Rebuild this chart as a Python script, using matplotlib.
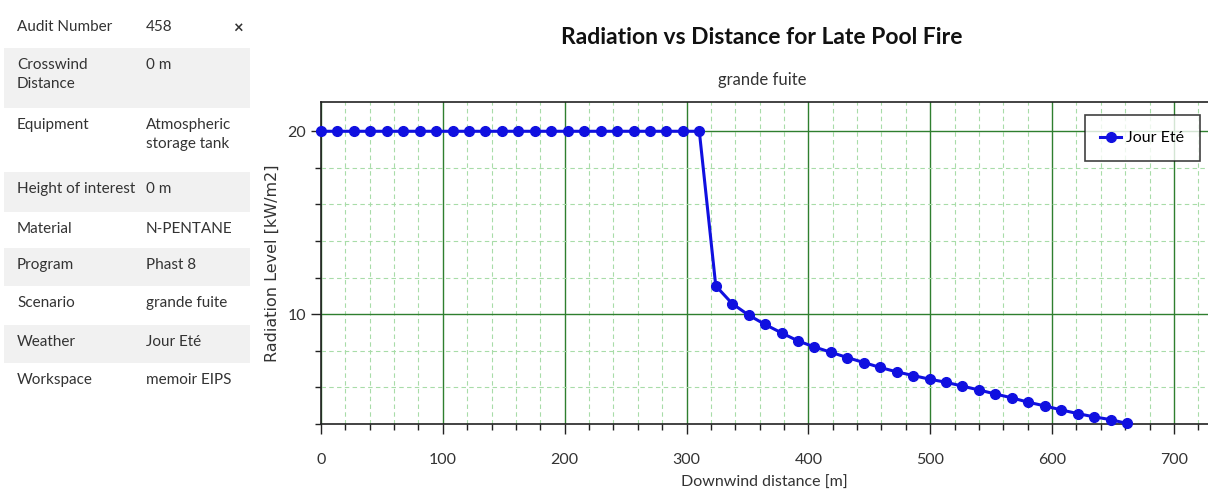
import matplotlib
matplotlib.use("Agg")
import matplotlib.pyplot as plt
from matplotlib.patches import Rectangle
from matplotlib.ticker import MultipleLocator

plt.rcParams['font.family'] = ['Lato', 'DejaVu Sans']

# data
distance = [0, 13.5, 27, 40.5, 54, 67.5, 81, 94.5, 108, 121.5, 135, 148.5, 162,
            175.5, 189, 202.5, 216, 229.5, 243, 256.5, 270, 283.5, 297, 310.5,
            324, 337.5, 351, 364.5, 378, 391.5, 405, 418.5, 432, 445.5, 459,
            472.5, 486, 499.5, 513, 526.5, 540, 553.5, 567, 580.5, 594, 607.5,
            621, 634.5, 648, 661.5]
radiation = [20, 20, 20, 20, 20, 20, 20, 20, 20, 20, 20, 20, 20, 20, 20, 20, 20,
             20, 20, 20, 20, 20, 20, 20,
             11.55, 10.58, 9.95, 9.44, 8.98, 8.54, 8.21, 7.92, 7.63, 7.36, 7.09,
             6.85, 6.65, 6.45, 6.28, 6.07, 5.86, 5.64, 5.43, 5.19, 4.99, 4.77,
             4.57, 4.39, 4.24, 4.03]
series_name = "Jour Eté"

info_labels = ["Audit Number", "Crosswind\nDistance", "Equipment", "Height of interest",
               "Material", "Program", "Scenario", "Weather", "Workspace"]
info_values = ["458", "0 m", "Atmospheric\nstorage tank", "0 m", "N-PENTANE",
               "Phast 8", "grande fuite", "Jour Eté", "memoir EIPS"]

W, H = 1208, 493
fig = plt.figure(figsize=(W / 100, H / 100), dpi=100)
fig.patch.set_facecolor('white')

def fx(px):
    return px / W

def fy(py):
    return 1 - py / H

# left info panel
row_edges = [10, 48, 108, 172, 212, 248, 286, 325, 363, 401]
for i, (lab, val) in enumerate(zip(info_labels, info_values)):
    top, bot = row_edges[i], row_edges[i + 1]
    if i % 2 == 1:
        fig.patches.append(Rectangle((fx(4), fy(bot)), fx(250 - 4), (bot - top) / H,
                                     transform=fig.transFigure, facecolor='#f1f1f1',
                                     edgecolor='none', zorder=0))
    fig.text(fx(17), fy(top + 10), lab, ha='left', va='top', fontsize=11,
             color='#333333', linespacing=1.45)
    fig.text(fx(146), fy(top + 10), val, ha='left', va='top', fontsize=11,
             color='#333333', linespacing=1.45)
fig.text(fx(238), fy(29), "×", ha='center', va='center', fontsize=12,
         fontweight='bold', color='#333333')

# chart
ax = fig.add_axes([fx(321), fy(424), fx(W - 321), (424 - 102) / H])
ax.plot(distance, radiation, color='#1010e0', lw=2.2, marker='o', ms=7,
        mec='#1010e0', mfc='#1010e0', label=series_name, zorder=3, clip_on=False)

ax.set_xlim(0, 728)
ax.set_ylim(4, 21.6)
ax.xaxis.set_major_locator(MultipleLocator(100))
ax.xaxis.set_minor_locator(MultipleLocator(20))
ax.yaxis.set_major_locator(MultipleLocator(10))
ax.yaxis.set_minor_locator(MultipleLocator(2))

ax.grid(which='major', color='#2f7f2f', lw=1.0, ls='-')
ax.grid(which='minor', color='#a8dca8', lw=0.8, ls=(0, (4, 3)))
ax.set_axisbelow(True)

for s in ['left', 'bottom', 'top']:
    ax.spines[s].set_color('#222222')
    ax.spines[s].set_linewidth(1.2)
ax.spines['right'].set_visible(False)

ax.tick_params(which='major', length=7, width=1, color='#222222',
               labelsize=11.5, labelcolor='#333333')
ax.tick_params(which='minor', length=4, width=1, color='#222222')
ax.tick_params(axis='x', which='major', pad=14)

ax.set_xlabel("Downwind distance [m]", fontsize=11.5, color='#333333', labelpad=6)
ax.set_ylabel("Radiation Level [kW/m2]", fontsize=11.5, color='#333333',
              family=['DejaVu Sans'], labelpad=6)

fig.text(fx(762), fy(38), "Radiation vs Distance for Late Pool Fire", ha='center',
         va='center', fontsize=16.5, fontweight='bold', color='#111111')
fig.text(fx(762), fy(80), "grande fuite", ha='center', va='center', fontsize=12,
         color='#333333')

leg = ax.legend(loc='upper right', bbox_to_anchor=(fx(1200 - 321) / fx(W - 321), 1 - 13 / 322),
                frameon=True, fancybox=False, fontsize=11.5, handlelength=1.3,
                borderpad=1.0, handletextpad=0.3, borderaxespad=0)
leg.get_frame().set_edgecolor('#111111')
leg.get_frame().set_linewidth(1.2)

fig.savefig('out.png', dpi=100)
